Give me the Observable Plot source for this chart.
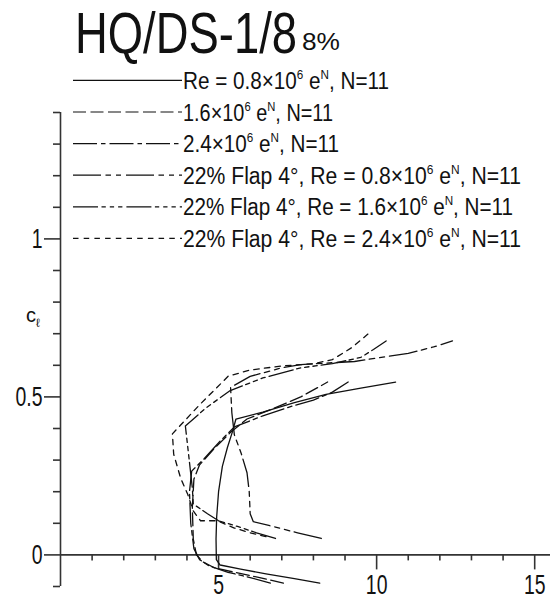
<!DOCTYPE html>
<html>
<head>
<meta charset="utf-8">
<script src="https://cdn.jsdelivr.net/npm/d3@7"></script>
<script src="https://cdn.jsdelivr.net/npm/@observablehq/plot@0.6"></script>
<style>
  html, body { margin: 0; padding: 0; background: #fff; }
  svg { display: block; }
</style>
</head>
<body>
<div id="chart"></div>
<script>
// ---------- chart text ----------
const titleText = "HQ/DS-1/8";
const titleSuffix = "8%";
const legendMain = [
  "Re = 0.8×10", "1.6×10", "2.4×10",
  "22% Flap 4°, Re = 0.8×10", "22% Flap 4°, Re = 1.6×10", "22% Flap 4°, Re = 2.4×10"
];
const legendExp = "6";
const legendTail = ", N=11";

// ---------- tick values / labels ----------
const xMinorTicks = [1, 2, 3, 4, 6, 7, 8, 9, 11, 12, 13, 14];
const xMajorTicks = [5, 10, 15];
const xTickLabels = ["5", "10", "15"];
const yMinorTicks = [-0.1, 0.1, 0.2, 0.3, 0.4, 0.6, 0.7, 0.8, 0.9, 1.1, 1.2, 1.3, 1.4];
const yMajorTicks = [0, 0.5, 1];
const yTickLabels = ["0", "0.5", "1"];

// ---------- series: [cd, cl] ----------
const clean08 = [[8.2,-0.089],[7.4,-0.075],[6.5,-0.06],[5.7,-0.045],[5.05,-0.032],[4.93,-0.015],[4.92,0.05],[4.94,0.12],[5.0,0.2],[5.12,0.28],[5.28,0.34],[5.44,0.39],[5.55,0.43],[6.4,0.452],[7.4,0.482],[8.4,0.508],[9.5,0.528],[10.6,0.547]];
const clean16 = [[7.05,-0.089],[6.3,-0.072],[5.5,-0.055],[4.85,-0.04],[4.5,-0.022],[4.3,0.0],[4.2,0.05],[4.17,0.15],[4.22,0.24],[4.4,0.285],[4.85,0.335],[5.4,0.39],[5.9,0.43],[6.8,0.466],[7.6,0.5],[8.45,0.547]];
const clean24 = [[6.64,-0.089],[6.0,-0.072],[5.3,-0.055],[4.7,-0.035],[4.4,-0.015],[4.22,0.02],[4.12,0.1],[4.08,0.2],[4.15,0.265],[4.55,0.305],[5.05,0.36],[5.5,0.405],[6.4,0.44],[7.3,0.47],[8.0,0.49],[8.6,0.515],[9.1,0.547]];
const flap08 = [[8.25,0.052],[7.5,0.07],[6.8,0.088],[6.1,0.105],[6.0,0.13],[5.97,0.2],[5.9,0.26],[5.72,0.32],[5.5,0.38],[5.42,0.45],[5.38,0.53],[6.0,0.565],[7.0,0.592],[7.6,0.602],[8.4,0.607],[9.3,0.612],[10.2,0.626],[11.0,0.638],[11.8,0.658],[12.4,0.677]];
const flap16 = [[6.8,0.052],[6.2,0.07],[5.6,0.09],[5.0,0.108],[4.65,0.13],[4.2,0.161],[4.17,0.212],[4.05,0.32],[3.95,0.408],[4.6,0.465],[5.37,0.52],[6.4,0.56],[7.6,0.592],[8.6,0.605],[9.5,0.625],[9.9,0.65],[10.3,0.677]];
const flap24 = [[6.5,0.058],[6.0,0.07],[5.5,0.085],[4.96,0.108],[4.43,0.108],[4.2,0.139],[4.02,0.193],[3.8,0.243],[3.58,0.319],[3.54,0.383],[4.4,0.475],[5.31,0.566],[6.0,0.585],[7.0,0.598],[8.0,0.605],[8.6,0.618],[9.2,0.655],[9.74,0.70]];

const series = [clean08, clean16, clean24, flap08, flap16, flap24];
const dashes = [null, "13,4.5", "24,4,4.5,4", "28,4.5,5.5,5,5,5", "25,3.5,4.3,4,4.3,4,4.3,4", "5.5,5.2"];
const legendWidths = [206, 150, 156, 338, 330, 338];

const FONT = "'Liberation Sans', Arial, sans-serif";
const ink = "#111";
const axisInk = "#333";
const axisW = 1.6;

const marks = [
  // axis lines
  Plot.ruleY([0], {x1: 0, x2: 15.5, stroke: axisInk, strokeWidth: axisW}),
  Plot.ruleX([0], {y1: -0.1, y2: 1.4, stroke: axisInk, strokeWidth: axisW}),
  // x ticks (down from the cl = 0 axis)
  Plot.ruleX(xMinorTicks, {x: d => d, y1: 0, y2: 0, insetBottom: -6, stroke: axisInk, strokeWidth: axisW}),
  Plot.ruleX(xMajorTicks, {x: d => d, y1: 0, y2: 0, insetBottom: -15, stroke: axisInk, strokeWidth: axisW}),
  // y ticks (to the left)
  Plot.ruleY(yMinorTicks, {y: d => d, x1: 0, x2: 0, insetLeft: -7, stroke: axisInk, strokeWidth: axisW}),
  Plot.ruleY(yMajorTicks, {y: d => d, x1: 0, x2: 0, insetLeft: -16, stroke: axisInk, strokeWidth: axisW}),
  // tick labels
  Plot.text(xMajorTicks, {x: d => d, y: 0, text: (d, i) => xTickLabels[i], dy: 30, fontSize: 27, fill: ink}),
  Plot.text(yMajorTicks, {x: 0, y: d => d, text: (d, i) => yTickLabels[i], dx: -18, textAnchor: "end", fontSize: 27, fill: ink}),
  // polars
  ...series.map((s, i) => Plot.line(s, {
    x: d => d[0], y: d => d[1], stroke: ink, strokeWidth: 1.3,
    strokeDasharray: dashes[i] || undefined, curve: "linear"
  }))
];

const svg = Plot.plot({
  width: 550, height: 609,
  marginLeft: 60, marginRight: 0, marginTop: 112, marginBottom: 23,
  x: {domain: [0, 15.5], axis: null},
  y: {domain: [-0.1, 1.4], axis: null},
  style: {fontFamily: FONT, background: "#fff", overflow: "visible"},
  marks
});
document.getElementById("chart").append(svg);

const ysc = svg.scale("y");
const yPos = ysc.apply ? v => ysc.apply(v) : d3.scaleLinear(ysc.domain, ysc.range);

// condense tick labels (narrow drafting font look)
svg.querySelectorAll('g[aria-label="text"] text').forEach(t => {
  const w = t.getComputedTextLength();
  t.setAttribute("textLength", (w * 0.72).toFixed(1));
  t.setAttribute("lengthAdjust", "spacingAndGlyphs");
});

const root = d3.select(svg);
const addText = (x, y, size) => root.append("text")
  .attr("x", x).attr("y", y)
  .attr("text-anchor", "start")
  .attr("font-family", FONT).attr("font-size", size).attr("fill", ink);

// title
addText(75, 53, 58).attr("textLength", 222).attr("lengthAdjust", "spacingAndGlyphs").text(titleText);
addText(302, 50, 23).attr("textLength", 38).attr("lengthAdjust", "spacingAndGlyphs").text(titleSuffix);

// y axis label c_l
const yl = addText(26, 322, 20);
yl.append("tspan").text("c");
yl.append("tspan").attr("font-size", 12).attr("dy", 5).text("ℓ");

// legend
legendMain.forEach((lab, i) => {
  const ly = yPos(1.5 - 0.1 * i);
  root.append("line").attr("x1", 73).attr("x2", 182).attr("y1", ly).attr("y2", ly)
    .attr("stroke", ink).attr("stroke-width", 1.2)
    .attr("stroke-dasharray", dashes[i]);
  const t = addText(183, ly + 8.5, 23)
    .attr("textLength", legendWidths[i]).attr("lengthAdjust", "spacingAndGlyphs");
  t.append("tspan").text(lab);
  t.append("tspan").attr("font-size", 13).attr("dy", -10).text(legendExp);
  t.append("tspan").attr("dy", 10).text(" e");
  t.append("tspan").attr("font-size", 13).attr("dy", -10).text("N");
  t.append("tspan").attr("dy", 10).text(legendTail);
});
</script>
</body>
</html>
